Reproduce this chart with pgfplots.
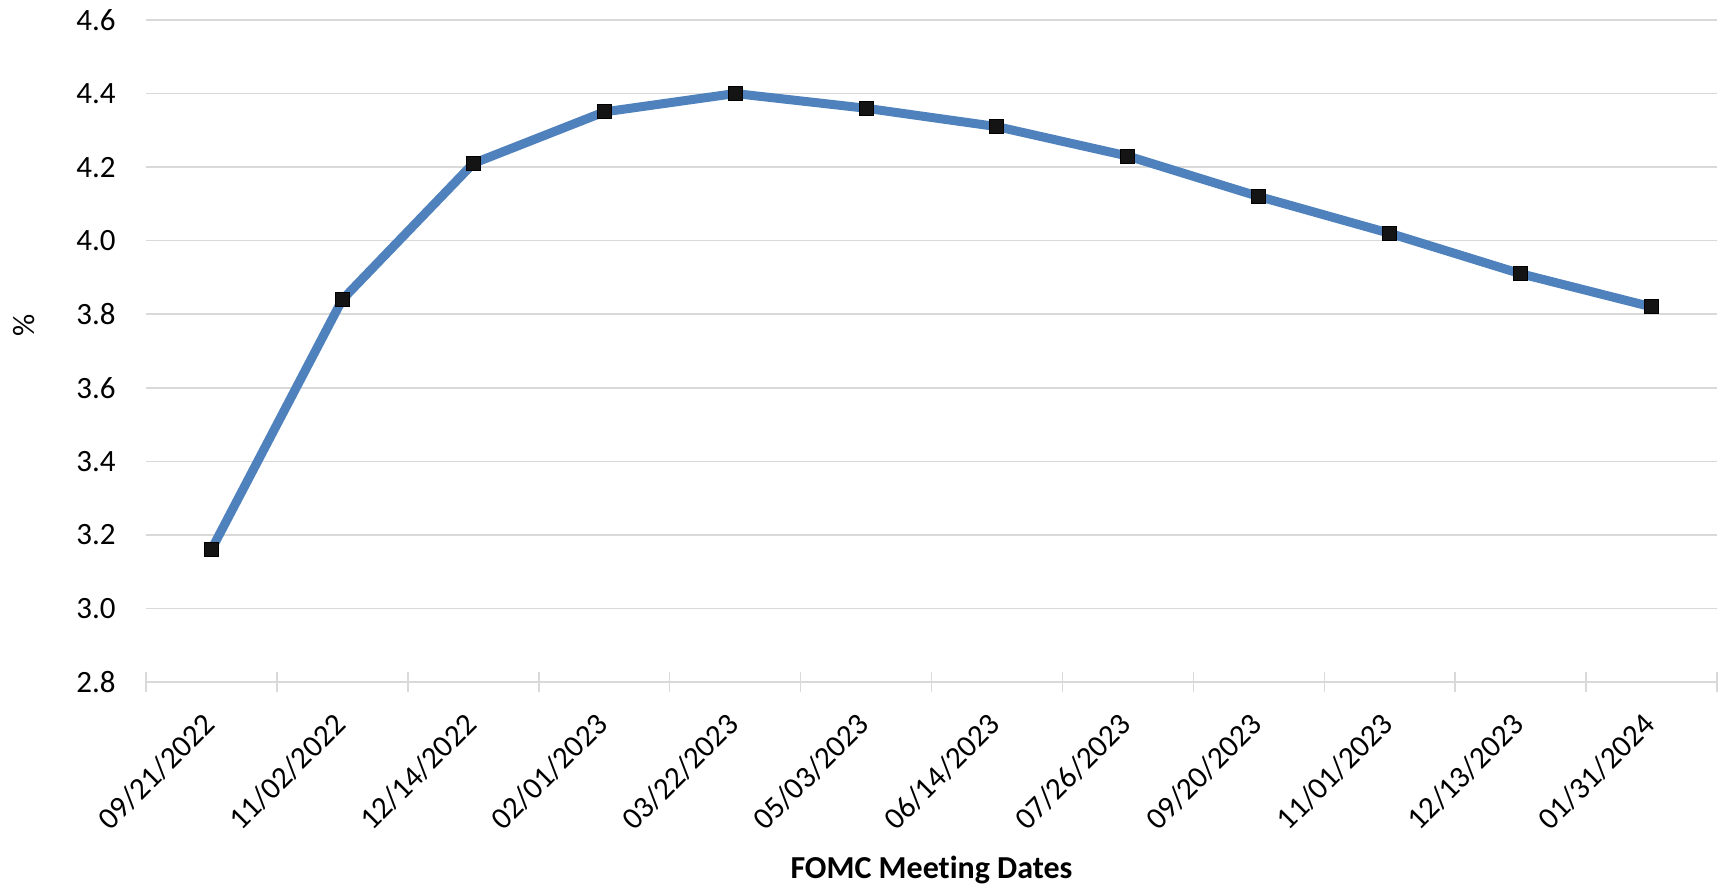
\documentclass[border=0pt]{standalone}
\usepackage{fontspec}
\setmainfont{Carlito}[Ligatures=CommonOff]
\usepackage{pgfplots}
\pgfplotsset{compat=1.18}
\definecolor{lineblue}{HTML}{4F81BD}
\definecolor{gridgray}{HTML}{D9D9D9}
\definecolor{markblack}{HTML}{141414}
\begin{document}
\begin{tikzpicture}
\begin{axis}[
  at={(73pt,102.5pt)}, anchor=south west,
  scale only axis,
  width=785.5pt, height=331pt,
  xmin=-0.5, xmax=11.5,
  ymin=2.8, ymax=4.6,
  ytick={2.8,3.0,3.2,3.4,3.6,3.8,4.0,4.2,4.4,4.6},
  /pgf/number format/fixed,
  /pgf/number format/fixed zerofill,
  /pgf/number format/precision=1,
  /pgf/number format/assume math mode=true,
  xtick={0,...,11},
  xticklabels={09/21/2022,11/02/2022,12/14/2022,02/01/2023,03/22/2023,05/03/2023,06/14/2023,07/26/2023,09/20/2023,11/01/2023,12/13/2023,01/31/2024},
  minor xtick={-0.5,0.5,...,11.5},
  major tick length=0pt,
  minor tick length=10pt,
  tick align=center,
  minor x tick style={draw=gridgray, line width=0.75pt},
  ymajorgrids,
  grid style={draw=gridgray, line width=0.75pt},
  axis x line*=bottom,
  axis y line*=left,
  x axis line style={draw=gridgray, line width=0.75pt, -},
  y axis line style={draw=none},
  tick label style={font=\fontsize{15.5}{19}\selectfont, text=black},
  yticklabel style={anchor=east, inner sep=0pt, xshift=-15pt},
  xticklabel style={inner sep=0pt, xshift=-5.1pt, yshift=-14.2pt, rotate=45, anchor=north east},
  xlabel={FOMC Meeting Dates},
  xlabel style={font=\fontsize{16}{19}\selectfont\bfseries, at={(axis description cs:0.5,-0.284)}, anchor=center},
  ylabel={\%},
  ylabel style={font=\fontsize{15.5}{19}\selectfont, at={(axis description cs:-0.0777,0.539)}, anchor=center},
  clip=false,
]
\addplot[color=lineblue, line width=4.5pt, mark=square*, mark size=3.5pt,
  mark options={fill=markblack, draw=black, line width=0.5pt}]
  coordinates {
  (0,3.16) (1,3.84) (2,4.21) (3,4.35) (4,4.40) (5,4.36)
  (6,4.31) (7,4.23) (8,4.12) (9,4.02) (10,3.91) (11,3.82)
  };
\end{axis}
\pgfresetboundingbox
\useasboundingbox (0,0) rectangle (860pt,443.5pt);
\end{tikzpicture}
\end{document}
